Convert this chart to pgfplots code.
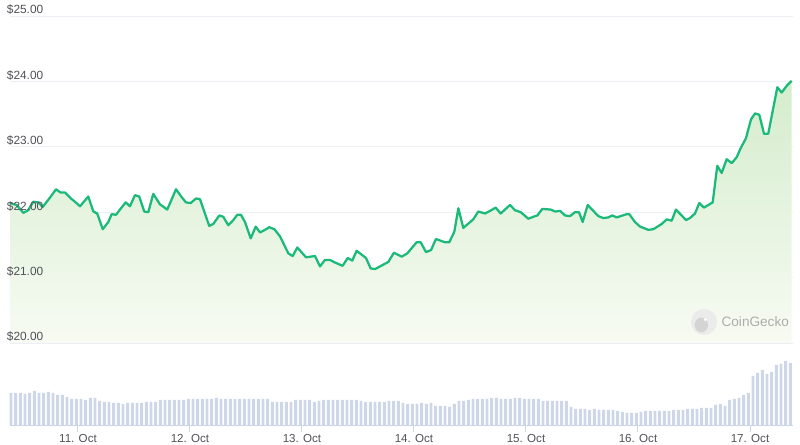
\documentclass[border=0pt]{standalone}
\usepackage{pgfplots}
\pgfplotsset{compat=1.18}
\usepackage{pgfplotstable}
\usepackage{fontspec}
\setmainfont{Liberation Sans}
\definecolor{linec}{RGB}{28,186,122}
\definecolor{filltop}{RGB}{212,236,204}
\definecolor{fillbot}{RGB}{247,251,243}
\definecolor{gridc}{RGB}{236,239,244}
\definecolor{barc}{RGB}{206,215,231}
\definecolor{axisc}{RGB}{204,214,235}
\definecolor{labc}{RGB}{80,80,88}

\pgfplotstableread{
d p
-0.607 22.14
-0.547 22.11
-0.488 21.99
-0.444 22.03
-0.399 22.16
-0.354 22.15
-0.315 22.08
-0.256 22.21
-0.196 22.35
-0.154 22.30
-0.116 22.30
-0.056 22.20
-0.027 22.16
0.018 22.09
0.092 22.24
0.137 22.01
0.172 21.98
0.221 21.74
0.271 21.85
0.301 21.97
0.339 21.96
0.375 22.04
0.426 22.15
0.464 22.09
0.509 22.26
0.547 22.24
0.592 22.01
0.628 22.00
0.672 22.28
0.717 22.16
0.732 22.12
0.797 22.04
0.875 22.35
0.926 22.23
0.964 22.15
1.006 22.14
1.054 22.21
1.089 22.20
1.172 21.79
1.208 21.82
1.262 21.95
1.297 21.93
1.342 21.80
1.387 21.88
1.422 21.96
1.455 21.96
1.491 21.85
1.542 21.60
1.587 21.78
1.625 21.69
1.670 21.73
1.708 21.77
1.753 21.74
1.804 21.63
1.878 21.37
1.917 21.33
1.958 21.46
2.036 21.31
2.116 21.33
2.161 21.17
2.205 21.27
2.250 21.27
2.295 21.23
2.363 21.18
2.408 21.30
2.449 21.26
2.488 21.41
2.571 21.30
2.613 21.14
2.652 21.13
2.696 21.17
2.771 21.24
2.821 21.38
2.890 21.32
2.940 21.37
3.024 21.54
3.060 21.54
3.107 21.39
3.152 21.42
3.196 21.59
3.277 21.54
3.315 21.54
3.360 21.70
3.396 22.06
3.440 21.76
3.529 21.89
3.574 22.01
3.634 21.98
3.679 22.02
3.729 22.07
3.774 21.98
3.857 22.11
3.902 22.03
3.953 22.00
4.021 21.90
4.065 21.93
4.101 21.95
4.146 22.05
4.221 22.04
4.259 22.01
4.304 22.02
4.348 21.95
4.393 21.94
4.438 22.00
4.473 22.00
4.506 21.85
4.551 22.11
4.601 22.02
4.646 21.94
4.690 21.91
4.735 21.92
4.771 21.95
4.810 21.92
4.899 21.97
4.922 21.97
4.973 21.85
5.018 21.78
5.092 21.73
5.137 21.74
5.212 21.82
5.256 21.89
5.301 21.87
5.339 22.04
5.429 21.88
5.464 21.91
5.509 21.98
5.547 22.14
5.589 22.07
5.628 22.11
5.667 22.15
5.708 22.71
5.747 22.60
5.792 22.81
5.837 22.75
5.881 22.84
5.920 22.99
5.964 23.13
6.009 23.42
6.045 23.51
6.083 23.49
6.125 23.20
6.163 23.20
6.244 23.91
6.283 23.83
6.327 23.93
6.372 24.01
}\price

\pgfplotstableread{
h v
0 32
1 32
2 32
3 31
4 32
5 34
6 32
7 32
8 33
9 32
10 30
11 30
12 28
13 26
14 26
15 26
16 25
17 27
18 27
19 24
20 23
21 23
22 22
23 22
24 21
25 22
26 22
27 22
28 22
29 23
30 23
31 23
32 25
33 25
34 25
35 25
36 25
37 25
38 26
39 26
40 26
41 26
42 26
43 26
44 27
45 26
46 26
47 26
48 26
49 26
50 26
51 26
52 26
53 26
54 26
55 26
56 23
57 23
58 23
59 23
60 23
61 25
62 25
63 25
64 25
65 23
66 24
67 25
68 25
69 25
70 25
71 25
72 25
73 25
74 25
75 24
76 23
77 23
78 23
79 23
80 23
81 24
82 24
83 24
84 22
85 21
86 21
87 21
88 22
89 21
90 22
91 19
92 19
93 19
94 18
95 21
96 24
97 24
98 25
99 26
100 26
101 26
102 26
103 27
104 27
105 26
106 26
107 26
108 27
109 27
110 26
111 26
112 26
113 26
114 24
115 24
116 24
117 24
118 24
119 24
120 18
121 16
122 16
123 16
124 15
125 16
126 15
127 15
128 15
129 15
130 14
131 13
132 12
133 12
134 12
135 13
136 14
137 14
138 14
139 14
140 14
141 14
142 15
143 15
144 15
145 16
146 16
147 16
148 17
149 17
150 17
151 20
152 21
153 19
154 25
155 26
156 27
157 30
158 32
159 49
160 52
161 55
162 51
163 53
164 60
165 61
166 64
167 62
}\volume

\pgfplotsset{
  pricebox/.style={at={(7.5pt,15pt)}, anchor=south west, scale only axis,
    width=587.25pt, height=306.75pt,
    xmin=-0.607, xmax=6.384, ymin=18.746, ymax=25,
    axis line style={draw=none}, xtick=\empty,
    ytick={20,21,22,23,24,25}, major tick length=0pt, clip=false},
}

\begin{document}
\begin{tikzpicture}
\path[use as bounding box] (0,0) rectangle (600pt,333.75pt);

% volume axis
\begin{axis}[at={(7.5pt,15pt)}, anchor=south west, scale only axis,
  width=587.25pt, height=306.75pt,
  xmin=-0.607, xmax=6.384, ymin=0, ymax=409,
  axis line style={draw=none},
  ytick=\empty,
  xtick={0,1,2,3,4,5,6},
  xticklabels={11. Oct,12. Oct,13. Oct,14. Oct,15. Oct,16. Oct,17. Oct},
  xtick pos=bottom, tick align=outside, major tick length=5pt,
  xtick style={color=axisc, line width=0.75pt},
  xticklabel style={font=\fontsize{8.7}{10}\selectfont, text=labc, anchor=north, yshift=1.8pt},
  clip=false]
\addplot[ybar, bar width=0.026, fill=barc, draw=none]
  table[x expr=\thisrow{h}/24-0.598, y=v] {\volume};
\draw[axisc, line width=0.6pt] (axis cs:-0.607,0) -- (axis cs:6.384,0);
\end{axis}

% price axis
\begin{axis}[pricebox,
  yticklabels={},
  ymajorgrids, grid style={color=gridc, line width=0.6pt}]
\addplot[top color=filltop, bottom color=fillbot, draw=none]
  table[x=d, y=p] {\price} -- (axis cs:6.372,20) -- (axis cs:-0.607,20) -- cycle;
\addplot[linec, line width=1.7pt, line join=round] table[x=d, y=p] {\price};
\end{axis}

% price labels on top
\begin{axis}[pricebox,
  yticklabels={\$20.00,\$21.00,\$22.00,\$23.00,\$24.00,\$25.00},
  yticklabel style={font=\fontsize{8.9}{10}\selectfont, text=labc, anchor=base west, inner sep=0pt, xshift=-2.5pt, yshift=1.6pt}]
\end{axis}

% watermark
\fill[gray!16] (528pt,92.25pt) circle (9.75pt);
\fill[gray!34] (526pt,90pt) ellipse (5pt and 5.5pt);
\fill[white] (529pt,94pt) circle (1.2pt);
\node[anchor=west, text=gray!65, font=\fontsize{10.2}{12}\selectfont, inner sep=0pt] at (541pt,92.25pt) {CoinGecko};
\end{tikzpicture}
\end{document}
